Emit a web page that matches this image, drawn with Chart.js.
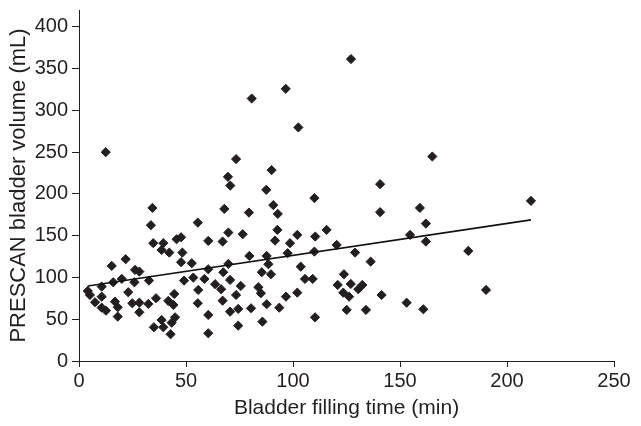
<!DOCTYPE html>
<html>
<head>
<meta charset="utf-8">
<script src="https://cdn.jsdelivr.net/npm/chart.js@4/dist/chart.umd.min.js"></script>
<style>
html,body{margin:0;padding:0;background:#ffffff;}
#wrap{width:641px;height:426px;}
</style>
</head>
<body>
<div id="wrap"><canvas id="c" width="641" height="426"></canvas></div>
<script>
// Bladder filling time (min) for each patient
const fillingTimeMin = [
  34.7, 39.4, 45.6, 47.7, 60.4, 38.6, 42.2, 48.3, 47.7, 52.7,
  15.3, 21.8, 26.2, 28.2, 60.4, 20.0, 16.0, 25.9, 32.7, 49.1,
  53.4, 58.6, 10.6, 4.1, 5.1, 23.0, 44.5, 55.7, 10.6, 7.5,
  16.8, 24.9, 28.2, 32.4, 36.0, 41.7, 44.1, 55.5, 10.6, 12.6,
  18.1, 28.2, 44.9, 38.6, 18.1, 35.0, 39.4, 43.3, 42.8, 60.4,
  60.4,
  67.1, 91.6, 98.6, 120.4, 79.6, 87.7, 97.5, 110.0, 69.8, 88.5,
  103.6, 85.4, 89.7, 67.4, 70.6, 105.6, 109.2, 120.9, 63.6, 66.4,
  75.6, 83.8, 85.0, 73.4, 102.0, 96.7, 67.1, 87.7, 93.6, 80.4,
  74.4, 70.6, 110.3, 85.7, 74.4,
  162.1, 129.0, 181.9, 136.3, 123.8, 127.0, 132.4, 130.5, 123.5, 126.2,
  141.4, 153.1, 125.1, 134.1, 160.9, 190.2,
  12.5, 34.3, 33.6, 55.5,
  102.5, 73.4, 90.0, 69.6, 70.7, 87.5, 110.0, 67.9, 79.4, 90.8,
  92.9, 69.8, 76.5, 92.7, 102.0, 115.7, 110.4,
  127.1, 96.6, 80.7,
  165.1, 140.7, 140.7, 159.3, 162.1, 211.2, 154.7
];
// PRESCAN bladder volume (mL) for each patient
const prescanVolumeMl = [
  141.0, 141.0, 145.7, 148.1, 143.7, 132.9, 129.7, 129.7, 118.2, 117.0,
  113.8, 121.8, 109.0, 107.0, 109.8, 98.2, 94.2, 94.2, 96.2, 96.2,
  99.8, 98.2, 89.0, 83.8, 79.0, 82.3, 80.2, 85.0, 77.0, 70.3,
  71.0, 69.1, 69.8, 68.3, 75.1, 71.9, 67.1, 69.1, 63.8, 60.2,
  64.3, 58.3, 52.3, 49.1, 53.1, 40.4, 40.4, 45.9, 32.0, 55.1,
  33.2,
  142.9, 144.1, 141.0, 138.9, 125.7, 125.7, 129.0, 130.9, 116.2, 115.8,
  112.9, 106.2, 103.8, 106.2, 97.0, 98.2, 98.2, 91.0, 91.9, 85.9,
  89.8, 88.3, 81.1, 79.0, 81.8, 77.0, 72.2, 67.9, 63.8, 63.1,
  62.3, 59.0, 52.3, 47.1, 42.3,
  142.9, 129.7, 131.7, 118.9, 103.8, 92.2, 91.0, 85.9, 81.8, 77.0,
  79.0, 69.8, 61.1, 61.1, 61.9, 85.0,
  249.9, 183.2, 162.5, 165.6,
  279.5, 241.6, 228.4, 220.4, 209.9, 204.8, 194.9, 182.0, 177.6, 186.5,
  176.0, 153.7, 151.7, 156.9, 150.9, 156.9, 148.9,
  361.3, 325.7, 314.1,
  244.7, 211.6, 178.1, 183.2, 164.4, 191.6, 150.9
];
// Regression line end points
const trendTimeMin = [4.1, 211.2];
const trendVolumeMl = [89.8, 168.9];
// Axis ticks
const xTickValues = [0, 50, 100, 150, 200, 250];
const yTickValues = [0, 50, 100, 150, 200, 250, 300, 350, 400];

const FONT = '"Liberation Sans", Arial, sans-serif';
const INK = '#231f20';

const scatterData = fillingTimeMin.map((x, i) => ({ x: x, y: prescanVolumeMl[i] }));
const trendData = trendTimeMin.map((x, i) => ({ x: x, y: trendVolumeMl[i] }));

new Chart(document.getElementById('c'), {
  type: 'scatter',
  data: {
    datasets: [
      {
        type: 'scatter',
        data: scatterData,
        pointStyle: 'rectRot',
        pointRadius: 4.6,
        pointBackgroundColor: INK,
        pointBorderColor: INK,
        pointBorderWidth: 1,
        order: 2
      },
      {
        type: 'line',
        data: trendData,
        borderColor: '#111111',
        borderWidth: 1.6,
        pointRadius: 0,
        fill: false,
        tension: 0,
        order: 1
      }
    ]
  },
  options: {
    responsive: false,
    animation: false,
    devicePixelRatio: 1,
    layout: { padding: { left: 0, right: 27, top: 10, bottom: 0 } },
    plugins: { legend: { display: false }, tooltip: { enabled: false } },
    scales: {
      x: {
        type: 'linear',
        position: 'bottom',
        min: 0,
        max: 250,
        afterBuildTicks: s => { s.ticks = xTickValues.map(v => ({ value: v })); },
        afterFit: s => { s.height = 65; s.paddingLeft = 0; s.paddingRight = 0; },
        ticks: { font: { family: FONT, size: 20 }, color: INK, padding: 2, maxRotation: 0 },
        grid: { drawOnChartArea: false, drawTicks: true, tickLength: 6, color: INK, lineWidth: 1 },
        border: { display: true, color: INK, width: 1 },
        title: {
          display: true,
          text: 'Bladder filling time (min)',
          font: { family: FONT, size: 21 },
          color: INK,
          padding: { top: 0, bottom: 5 }
        }
      },
      y: {
        type: 'linear',
        position: 'left',
        min: 0,
        max: 420,
        afterBuildTicks: s => { s.ticks = yTickValues.map(v => ({ value: v })); },
        afterFit: s => { s.width = 79; s.paddingTop = 0; s.paddingBottom = 0; },
        ticks: { font: { family: FONT, size: 20 }, color: INK, padding: 4 },
        grid: { drawOnChartArea: false, drawTicks: true, tickLength: 7, color: INK, lineWidth: 1 },
        border: { display: true, color: INK, width: 1 },
        title: {
          display: true,
          text: 'PRESCAN bladder volume (mL)',
          font: { family: FONT, size: 22 },
          color: INK,
          padding: { top: 6, bottom: 0 }
        }
      }
    }
  }
});
</script>
</body>
</html>
